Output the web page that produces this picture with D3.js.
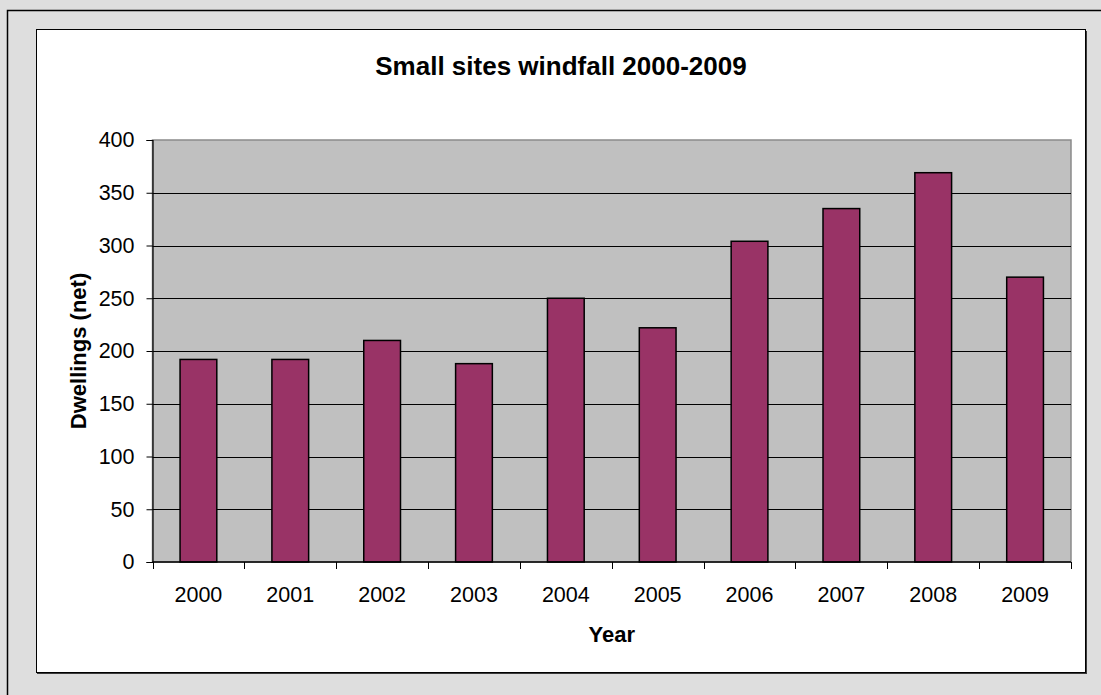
<!DOCTYPE html>
<html>
<head>
<meta charset="utf-8">
<script src="https://cdn.jsdelivr.net/npm/d3@7"></script>
<style>
  body { margin: 0; background: #dedede; }
  text { font-family: "Liberation Sans", Arial, sans-serif; fill: #000; }
</style>
</head>
<body>
<script>
const width = 1101
const height = 695

// data
const years = ["2000", "2001", "2002", "2003", "2004", "2005", "2006", "2007", "2008", "2009"];
const dwellings = [192, 192, 210, 188, 250, 222, 304, 335, 369, 270];
const yTicks = [0, 50, 100, 150, 200, 250, 300, 350, 400];

const svg = d3.select("body").append("svg")
    .attr("width", width)
    .attr("height", height);

// outer grey frame
svg.append("rect")
    .attr("x", 7.5).attr("y", 10.5)
    .attr("width", width + 10).attr("height", height + 10)
    .attr("fill", "#dedede")
    .attr("stroke", "#000")
    .attr("stroke-width", 1.5);

// white chart area with dark shadow on right/bottom
svg.append("rect")
    .attr("x", 37).attr("y", 31)
    .attr("width", 1050).attr("height", 643)
    .attr("fill", "#3a3a3a");
svg.append("rect")
    .attr("x", 36.5).attr("y", 29.5)
    .attr("width", 1049).attr("height", 643)
    .attr("fill", "#fff")
    .attr("stroke", "#000")
    .attr("stroke-width", 1);

const plot = {left: 152.5, top: 140, right: 1071, bottom: 562};

const x = d3.scaleBand()
    .domain(years)
    .range([plot.left, plot.right])
    .paddingInner(0.6)
    .paddingOuter(0.3);

const y = d3.scaleLinear()
    .domain([0, 400])
    .range([plot.bottom, plot.top]);

// plot background
svg.append("rect")
    .attr("x", plot.left).attr("y", plot.top)
    .attr("width", plot.right - plot.left)
    .attr("height", plot.bottom - plot.top)
    .attr("fill", "#c0c0c0")
    .attr("stroke", "#8a8a8a")
    .attr("stroke-width", 1.5);

// gridlines
svg.append("g")
    .selectAll("line")
    .data(yTicks.filter(d => d > 0 && d < 400))
    .enter()
    .append("line")
    .attr("x1", plot.left).attr("x2", plot.right)
    .attr("y1", d => Math.round(y(d)) + 0.5)
    .attr("y2", d => Math.round(y(d)) + 0.5)
    .attr("stroke", "#000")
    .attr("stroke-width", 1.2);

// bars
svg.append("g")
    .selectAll("rect")
    .data(dwellings)
    .enter()
    .append("rect")
    .attr("x", (d, i) => x(years[i]))
    .attr("y", d => y(d))
    .attr("width", x.bandwidth())
    .attr("height", d => y(0) - y(d))
    .attr("fill", "#993366")
    .attr("stroke", "#000")
    .attr("stroke-width", 1.5);

// y axis
const yAxis = svg.append("g")
    .attr("transform", `translate(${plot.left},0)`)
    .call(d3.axisLeft(y).tickValues(yTicks).tickSize(6).tickPadding(12));
yAxis.select(".domain").attr("stroke", "#000").attr("stroke-width", 1.2);
yAxis.selectAll(".tick line").attr("stroke", "#000");
yAxis.selectAll("text")
    .attr("font-size", 21.5)
    .attr("font-family", "Liberation Sans, Arial, sans-serif");

// x axis, ticks at category boundaries
const step = (plot.right - plot.left) / years.length;
const xAxisG = svg.append("g");
xAxisG.append("line")
    .attr("x1", plot.left).attr("x2", plot.right)
    .attr("y1", plot.bottom).attr("y2", plot.bottom)
    .attr("stroke", "#000").attr("stroke-width", 1.5);
xAxisG.selectAll(".xt")
    .data(d3.range(years.length + 1))
    .enter()
    .append("line")
    .attr("x1", i => Math.round(plot.left + i * step) + 0.5)
    .attr("x2", i => Math.round(plot.left + i * step) + 0.5)
    .attr("y1", plot.bottom)
    .attr("y2", plot.bottom + 7)
    .attr("stroke", "#000");
xAxisG.selectAll(".xl")
    .data(years)
    .enter()
    .append("text")
    .attr("x", d => x(d) + x.bandwidth() / 2)
    .attr("y", 602)
    .attr("text-anchor", "middle")
    .attr("font-size", 21.5)
    .text(d => d);

// title and axis titles
svg.append("text")
    .attr("x", 561).attr("y", 75)
    .attr("text-anchor", "middle")
    .attr("font-size", 26)
    .attr("font-weight", "bold")
    .text("Small sites windfall 2000-2009");

svg.append("text")
    .attr("x", (plot.left + plot.right) / 2).attr("y", 642)
    .attr("text-anchor", "middle")
    .attr("font-size", 22)
    .attr("font-weight", "bold")
    .text("Year");

svg.append("text")
    .attr("transform", `translate(86,${(plot.top + plot.bottom) / 2}) rotate(-90)`)
    .attr("text-anchor", "middle")
    .attr("font-size", 22)
    .attr("font-weight", "bold")
    .text("Dwellings (net)");
</script>
</body>
</html>
